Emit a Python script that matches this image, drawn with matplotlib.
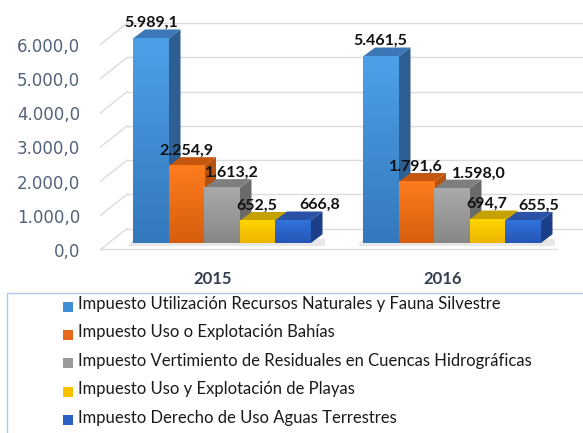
import numpy as np
import matplotlib
matplotlib.use("Agg")
import matplotlib.pyplot as plt
from matplotlib.patches import Polygon, Rectangle
from matplotlib.colors import to_rgb
from matplotlib.transforms import ScaledTranslation

# data
years = ['2015', '2016']
series = [
    'Impuesto Utilización Recursos Naturales y Fauna Silvestre',
    'Impuesto Uso o Explotación Bahías',
    'Impuesto Vertimiento de Residuales en Cuencas Hidrográficas',
    'Impuesto Uso y Explotación de Playas',
    'Impuesto Derecho de Uso Aguas Terrestres',
]
recursos = [5989.1, 5461.5]
bahias = [2254.9, 1791.6]
vertimiento = [1613.2, 1598.0]
playas = [652.5, 694.7]
aguas = [666.8, 655.5]
values = [recursos, bahias, vertimiento, playas, aguas]
yticks = [0, 1000, 2000, 3000, 4000, 5000, 6000]

# styling: (front top, front bottom, side, top face, legend marker)
colors = [
    ('#4DA0E8', '#3478BC', '#2D5F92', '#3C78B8', '#3F8FD8'),
    ('#FF7C1E', '#D55E0E', '#B5520F', '#C4560D', '#E8681A'),
    ('#AAAAAA', '#878787', '#6A6A6A', '#7E7E7E', '#999999'),
    ('#FFD500', '#EDB500', '#B39200', '#C6A200', '#FFC000'),
    ('#3173DB', '#2455B5', '#1D3F8A', '#2A52A6', '#2D5FC4'),
]
# label shifts in pixels (to avoid overlaps as in the original)
label_dx = [[0, 0, 10, 0, 27], [0, 0, 27, 0, 16]]

W, H = 583, 433
fig = plt.figure(figsize=(W / 100, H / 100), dpi=100)

# pixel geometry of the plot
px_left, px_right, px_top, px_bot = 100, 583, 0, 265
x_center0, x_step = 221.75, 230.0   # pixel x of first group, px per category
y_zero, y_scale = 250.0, 0.0342     # pixel y of value 0, px per unit

ax = fig.add_axes([px_left / W, 1 - px_bot / H, (px_right - px_left) / W, (px_bot - px_top) / H])
xlim = ((px_left - x_center0) / x_step, (px_right - x_center0) / x_step)
ylim = ((y_zero - px_bot) / y_scale, (y_zero - px_top) / y_scale)

def ux(px):
    return px / x_step

def uy(px):
    return px / y_scale

# walls / floor grid
wall_dx, wall_dy = ux(27), uy(21.5)
grid_c = '#DCDCDC'
for v in yticks:
    ax.plot([xlim[0], xlim[0] + wall_dx], [v, v + wall_dy], color=grid_c, lw=1, zorder=1)
    ax.plot([xlim[0] + wall_dx, xlim[1]], [v + wall_dy, v + wall_dy], color=grid_c, lw=1, zorder=1)
ax.plot([xlim[0], (557 - x_center0) / x_step], [uy(1), uy(1)], color=grid_c, lw=1, zorder=1)

w = ux(35.5)
bdx, bdy = ux(12), uy(9)
base = uy(6.7)
pos = np.arange(len(years))

for g in range(len(years)):
    # soft shadow on the floor
    xs0 = pos[g] - 2.5 * w
    xs1 = pos[g] + 2.5 * w + bdx
    ax.add_patch(Polygon([(xs0 - ux(5), base - uy(3)), (xs1 + ux(2), base - uy(3)),
                          (xs1 + ux(2), base + uy(4)), (xs0, base + uy(4))],
                         closed=True, fc='#B0B0B0', ec='none', alpha=0.3, zorder=2))
    for i, vals in enumerate(values):
        v = vals[g]
        x0 = pos[g] + (i - 2) * w - w / 2
        x1 = x0 + w
        top = base + v
        ftop, fbot, side, topc, _ = colors[i]
        z = 3 + 3 * i
        ax.add_patch(Polygon([(x1, base), (x1 + bdx, base + bdy), (x1 + bdx, top + bdy), (x1, top)],
                             closed=True, fc=side, ec='none', zorder=z))
        ax.add_patch(Polygon([(x0, top), (x0 + bdx, top + bdy), (x1 + bdx, top + bdy), (x1, top)],
                             closed=True, fc=topc, ec='none', zorder=z))
        grad = np.linspace(0, 1, 64)[:, None, None]
        img = (1 - grad) * np.array(to_rgb(ftop)) + grad * np.array(to_rgb(fbot))
        ax.imshow(img, extent=[x0, x1, base, top], aspect='auto', origin='upper',
                  interpolation='bilinear', zorder=z + 1)
        lbl = f"{v:,.1f}".replace(',', 'X').replace('.', ',').replace('X', '.')
        ax.text((x0 + x1) / 2 + ux(label_dx[g][i]), top + uy(15.3), lbl,
                ha='center', va='center', fontsize=11.5, fontweight='bold',
                family=['Lato', 'DejaVu Sans'], color='#111111', zorder=30)

ax.set_xlim(xlim)
ax.set_ylim(ylim)
for s in ax.spines.values():
    s.set_visible(False)
ax.set_yticks(yticks)
ax.set_yticklabels([f"{v:,.1f}".replace(',', 'X').replace('.', ',').replace('X', '.') for v in yticks],
                   fontsize=12, color='#52627A', family=['DejaVu Sans'])
ax.tick_params(axis='y', length=0, pad=14.4)
ax.set_xticks(pos)
ax.set_xticklabels(years, fontsize=12, fontweight='bold', color='#333F4F', family=['Lato', 'DejaVu Sans'])
ax.tick_params(axis='x', length=0, pad=4.3)
for t in ax.get_xticklabels():
    t.set_transform(t.get_transform() + ScaledTranslation(-9 / 100, 0, fig.dpi_scale_trans))

# legend
fig.add_artist(Rectangle((7 / W, -0.1), 1.2, 1 - 293 / H + 0.1, transform=fig.transFigure,
                         fc='none', ec='#A9C8E8', lw=1))
for i, name in enumerate(series):
    yb = 309 + 28.4 * i
    fig.add_artist(Rectangle((63 / W, 1 - (yb + 2.5) / H), 10 / W, 10 / H,
                             transform=fig.transFigure, fc=colors[i][4], ec='none'))
    fig.text(78 / W, 1 - yb / H, name, ha='left', va='baseline', fontsize=12,
             family=['Lato', 'DejaVu Sans'], color='#1A1A1A')

fig.savefig('out.png', dpi=100)
